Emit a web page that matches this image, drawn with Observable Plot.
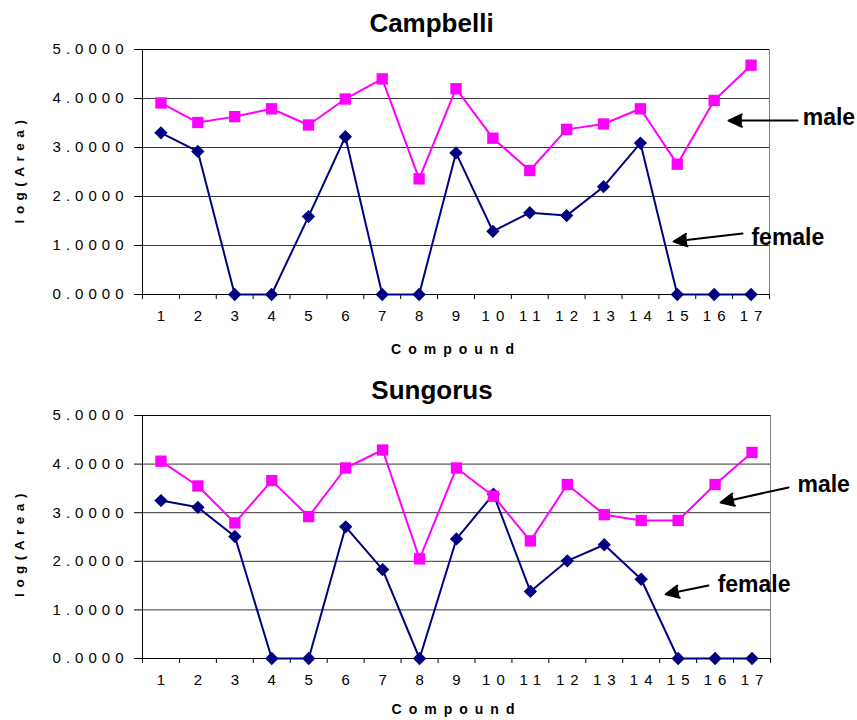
<!DOCTYPE html>
<html><head><meta charset="utf-8">
<script src="https://cdn.jsdelivr.net/npm/d3@7"></script>
<script src="https://cdn.jsdelivr.net/npm/@observablehq/plot@0.6"></script>
<style>
body{margin:0;background:#fff;}
svg{display:block;}
g[aria-label="y-axis tick label"] text{letter-spacing:5px;}
g[aria-label="x-axis tick label"] text{letter-spacing:6px;}
g[aria-label="text"][font-size="14"] text{letter-spacing:7px;}
g[aria-label="text"][font-size="13.5"] text{letter-spacing:5.5px;}
</style></head><body><div id="chart"></div>
<script>
const compounds = [1,2,3,4,5,6,7,8,9,10,11,12,13,14,15,16,17];
const campbelliMale   = [3.91,3.51,3.63,3.79,3.46,3.99,4.40,2.36,4.20,3.19,2.53,3.37,3.48,3.79,2.66,3.96,4.68];
const campbelliFemale = [3.30,2.92,0,0,1.59,3.22,0,0,2.89,1.29,1.67,1.61,2.20,3.09,0,0,0];
const sungorusMale    = [4.06,3.55,2.79,3.66,2.92,3.92,4.29,2.05,3.92,3.34,2.42,3.58,2.96,2.84,2.84,3.58,4.24];
const sungorusFemale  = [3.25,3.11,2.51,0,0,2.71,1.83,0,2.46,3.38,1.38,2.01,2.34,1.63,0,0,0];
const yTicks = [0,1,2,3,4,5];
const titles = ["Campbelli","Sungorus"];
const xLabel = "Compound";
const yLabel = "log(Area)";
const campbelliNotes = [
  {label:"male",   x1:18.26, y1:3.55, x2:16.39, y2:3.55, tx:18.40, ty:3.61},
  {label:"female", x1:16.77, y1:1.245, x2:14.90, y2:1.08, tx:17.01, ty:1.17}
];
const sungorusNotes = [
  {label:"male",   x1:17.99, y1:3.52, x2:16.15, y2:3.21, tx:18.23, ty:3.58},
  {label:"female", x1:15.82, y1:1.50, x2:14.66, y2:1.32, tx:16.07, ty:1.52}
];

const boundaries = compounds.map(c => c - 0.5).concat([compounds[compounds.length-1] + 0.5]);
const xDomain = [boundaries[0], boundaries[boundaries.length-1]];
const yDomain = [yTicks[0], yTicks[yTicks.length-1]];

function chart(title, male, female, notes, m) {
  const fRows = compounds.map((c,i) => ({compound:c, value:female[i]}));
  const mRows = compounds.map((c,i) => ({compound:c, value:male[i]}));
  return Plot.plot({
    width: 857, height: 360,
    marginTop: m.top, marginBottom: m.bottom, marginLeft: 142, marginRight: m.right,
    style: {fontFamily: "'Liberation Sans', Arial, sans-serif", background: "white", color: "black", overflow: "visible"},
    x: {domain: xDomain},
    y: {domain: yDomain},
    marks: [
      Plot.gridY(yTicks.slice(1, -1), {stroke: "#333", strokeOpacity: 1}),
      Plot.ruleY([yDomain[1]], {stroke: "black"}),
      Plot.ruleX([xDomain[1]], {stroke: "#808080"}),
      Plot.ruleX([xDomain[0]], {stroke: "black"}),
      Plot.ruleY([yDomain[0]], {stroke: "black"}),
      Plot.axisY(yTicks, {tickSize: 8, tickPadding: 6, tickFormat: d3.format(".4f"), fontSize: 15, label: null}),
      Plot.axisX(compounds, {tickSize: 0, tickPadding: 16, fontSize: 15, label: null, dx: 3}),
      Plot.axisX(boundaries, {tickSize: 5, tickFormat: () => "", label: null}),
      Plot.line(fRows, {x: "compound", y: "value", stroke: "#000080", strokeWidth: 2}),
      Plot.dot(fRows, {x: "compound", y: "value", symbol: "diamond2", r: 6, fill: "#000080"}),
      Plot.line(mRows, {x: "compound", y: "value", stroke: "#FF00FF", strokeWidth: 2}),
      Plot.dot(mRows, {x: "compound", y: "value", symbol: "square", r: 6.4, fill: "#FF00FF"}),
      Plot.arrow(notes, {x1: "x1", y1: "y1", x2: "x2", y2: "y2", stroke: "black", fill: "black", strokeWidth: 2, headLength: 11, headAngle: 50}),
      Plot.text(notes, {x: "tx", y: "ty", text: "label", textAnchor: "start", lineAnchor: "middle", fontSize: 23, fontWeight: "bold"}),
      Plot.text([title], {frameAnchor: "top", textAnchor: "middle", lineAnchor: "middle", dy: m.titleDy, dx: -24.5, fontSize: 26, fontWeight: "bold"}),
      Plot.text([xLabel], {frameAnchor: "bottom", textAnchor: "middle", lineAnchor: "middle", dy: m.xlabDy, dx: 0, fontSize: 14, fontWeight: "bold"}),
      Plot.text([yLabel], {frameAnchor: "left", textAnchor: "middle", lineAnchor: "middle", dx: -122.5, dy: m.ylabDy, rotate: -90, fontSize: 13.5, fontWeight: "bold"})
    ]
  });
}

const root = document.getElementById("chart");
root.append(chart(titles[0], campbelliMale, campbelliFemale, campbelliNotes, {top: 49, bottom: 66, right: 88, titleDy: -26, xlabDy: 55, ylabDy: -3}));
root.append(chart(titles[1], sungorusMale, sungorusFemale, sungorusNotes, {top: 55, bottom: 62, right: 87, titleDy: -24.5, xlabDy: 51, ylabDy: 5.5}));
</script></body></html>
